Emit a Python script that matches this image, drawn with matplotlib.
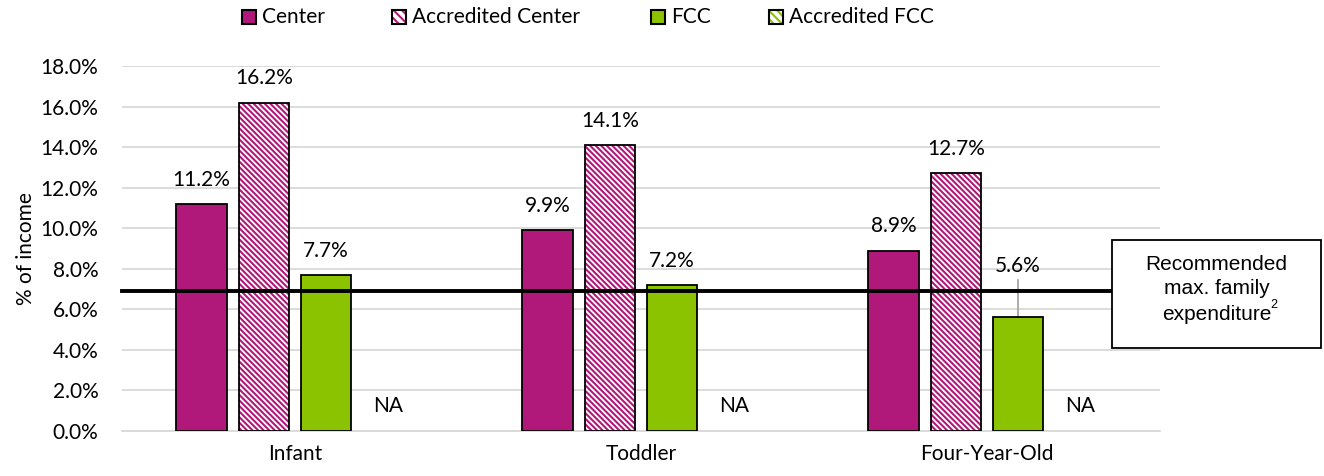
import matplotlib
matplotlib.use("Agg")
import matplotlib.pyplot as plt
from matplotlib.patches import Rectangle
import numpy as np

categories = ["Infant", "Toddler", "Four-Year-Old"]
series = ["Center", "Accredited Center", "FCC", "Accredited FCC"]
center = [11.2, 9.9, 8.9]
acc_center = [16.2, 14.1, 12.7]
fcc = [7.7, 7.2, 5.6]
acc_fcc = [None, None, None]
recommended = 6.9
yticks = [0, 2, 4, 6, 8, 10, 12, 14, 16, 18]

MAG = "#B0197A"
GRN = "#8CC300"
HATCH = "\\\\\\\\\\\\"
FS = 15
plt.rcParams['font.family'] = ['Lato', 'DejaVu Sans']
plt.rcParams['hatch.linewidth'] = 1.5

W, H = 1324, 476
fig = plt.figure(figsize=(W / 100, H / 100), dpi=100)
ax = fig.add_axes([122 / W, 1 - 431 / H, (1160 - 122) / W, (431 - 66) / H])

x = np.arange(len(categories))
w = 0.145
step = 0.18
offs = [(i - 1.5) * step for i in range(4)]

ax.bar(x + offs[0], center, w, color=MAG, edgecolor="black", linewidth=1.3, zorder=3)
ax.bar(x + offs[1], acc_center, w, color="white", edgecolor=MAG, hatch=HATCH, linewidth=0, zorder=3)
ax.bar(x + offs[1], acc_center, w, fill=False, edgecolor="black", linewidth=1.3, zorder=4)
ax.bar(x + offs[2], fcc, w, color=GRN, edgecolor="black", linewidth=1.3, zorder=3)

# recommended line, extends to the annotation box
ax.plot([-0.5, -0.5 + (1112 - 122) / 346], [recommended, recommended], color="black",
        linewidth=2.8, zorder=5, clip_on=False)

lab_off = 0.7
for i in range(3):
    ax.text(x[i] + offs[0], center[i] + lab_off, f"{center[i]:.1f}%", ha="center", va="bottom", fontsize=FS)
    ax.text(x[i] + offs[1], acc_center[i] + lab_off, f"{acc_center[i]:.1f}%", ha="center", va="bottom", fontsize=FS)
    if fcc[i] < recommended:
        ly = recommended + 0.75
        ax.plot([x[i] + offs[2]] * 2, [fcc[i], recommended + 0.55], color="#A6A6A6", linewidth=1.3, zorder=2)
    else:
        ly = fcc[i] + lab_off
    ax.text(x[i] + offs[2], ly, f"{fcc[i]:.1f}%", ha="center", va="bottom", fontsize=FS, zorder=6)
    ax.text(x[i] + offs[3], 0.75, "NA", ha="center", va="bottom", fontsize=FS)

ax.set_xlim(-0.5, 2.5)
ax.set_ylim(0, 18)
ax.set_yticks(yticks)
ax.set_yticklabels([f"{v:.1f}%" for v in yticks], fontsize=FS)
ax.set_xticks(x)
ax.set_xticklabels(categories, fontsize=FS)
ax.tick_params(axis="y", length=0, pad=17)
ax.tick_params(axis="x", length=0, pad=9)
ax.grid(axis="y", color="#D9D9D9", linewidth=1.3, zorder=0)
for s in ["top", "right", "left"]:
    ax.spines[s].set_visible(False)
ax.spines["bottom"].set_color("#D9D9D9")
ax.spines["bottom"].set_linewidth(1.3)
ax.set_ylabel("% of income", fontsize=FS, labelpad=3)

# legend (manual placement)
faces = [MAG, "white", GRN, "white"]
hatch_cols = [None, MAG, None, GRN]
lx = [242, 392, 651, 769]
for sx, name, fc, hc in zip(lx, series, faces, hatch_cols):
    if hc is None:
        r = Rectangle((sx / W, 1 - 24 / H), 14 / W, 14 / H, transform=fig.transFigure,
                      facecolor=fc, edgecolor="black", linewidth=1.5)
        fig.add_artist(r)
    else:
        r = Rectangle((sx / W, 1 - 24 / H), 14 / W, 14 / H, transform=fig.transFigure,
                      facecolor="white", edgecolor=hc, hatch="\\\\\\\\", linewidth=0)
        fig.add_artist(r)
        r2 = Rectangle((sx / W, 1 - 24 / H), 14 / W, 14 / H, transform=fig.transFigure,
                       facecolor="none", edgecolor="black", linewidth=1.5)
        fig.add_artist(r2)
    fig.text((sx + 20) / W, 1 - 17 / H, name, ha="left", va="center", fontsize=FS)

# annotation box
bx0, by0, bx1, by1 = 1112, 240, 1321, 348
fig.add_artist(Rectangle((bx0 / W, 1 - by1 / H), (bx1 - bx0) / W, (by1 - by0) / H,
                         transform=fig.transFigure, facecolor="white", edgecolor="black",
                         linewidth=1.3, zorder=10))
cx = (bx0 + bx1) / 2 / W
for j, line in enumerate(["Recommended", "max. family", "expenditure"]):
    fig.text(cx, 1 - (264 + 25 * j) / H, line, ha="center", va="center", fontsize=15,
             family="Liberation Sans", zorder=11)
fig.text(1270 / W, 1 - 305 / H, "2", ha="left", va="center", fontsize=9,
         family="Liberation Sans", zorder=11)

fig.savefig("out.png", dpi=100)
